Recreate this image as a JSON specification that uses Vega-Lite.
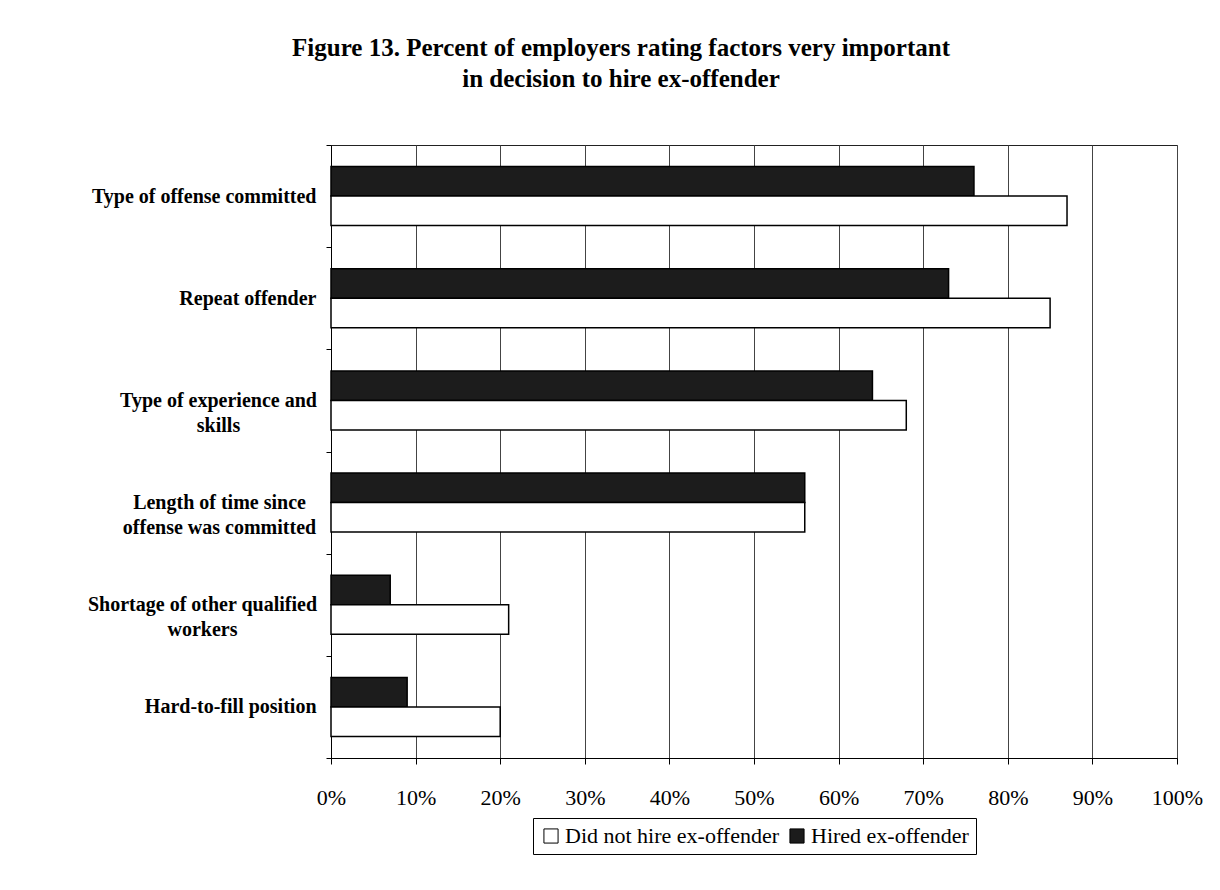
{
  "$schema": "https://vega.github.io/schema/vega-lite/v6.json",
  "autosize": {"type": "none"},
  "padding": {"left": 331, "top": 145, "right": 43, "bottom": 132},
  "width": 846,
  "height": 613,
  "background": "white",
  "title": {
    "text": ["Figure 13. Percent of employers rating factors very important", "in decision to hire ex-offender"],
    "font": "Liberation Serif",
    "fontSize": 25,
    "fontWeight": "bold",
    "color": "black",
    "anchor": "middle",
    "frame": "group",
    "dx": -133,
    "offset": 43,
    "lineHeight": 31
  },
  "data": {
    "values": [
      {"factor": "Type of offense committed", "group": "Hired ex-offender", "pct": 76},
      {"factor": "Type of offense committed", "group": "Did not hire ex-offender", "pct": 87},
      {"factor": "Repeat offender", "group": "Hired ex-offender", "pct": 73},
      {"factor": "Repeat offender", "group": "Did not hire ex-offender", "pct": 85},
      {"factor": "Type of experience and skills", "group": "Hired ex-offender", "pct": 64},
      {"factor": "Type of experience and skills", "group": "Did not hire ex-offender", "pct": 68},
      {"factor": "Length of time since offense was committed", "group": "Hired ex-offender", "pct": 56},
      {"factor": "Length of time since offense was committed", "group": "Did not hire ex-offender", "pct": 56},
      {"factor": "Shortage of other qualified workers", "group": "Hired ex-offender", "pct": 7},
      {"factor": "Shortage of other qualified workers", "group": "Did not hire ex-offender", "pct": 21},
      {"factor": "Hard-to-fill position", "group": "Hired ex-offender", "pct": 9},
      {"factor": "Hard-to-fill position", "group": "Did not hire ex-offender", "pct": 20}
    ]
  },
  "mark": {"type": "bar", "stroke": "black", "strokeWidth": 1.5},
  "encoding": {
    "y": {
      "field": "factor",
      "type": "nominal",
      "sort": null,
      "scale": {"paddingInner": 0, "paddingOuter": 0},
      "axis": {
        "title": null,
        "grid": false,
        "ticks": true,
        "tickBand": "extent",
        "tickSize": 5,
        "tickColor": "black",
        "domainColor": "black",
        "labelFont": "Liberation Serif",
        "labelFontWeight": "bold",
        "labelFontSize": 20,
        "labelColor": "black",
        "labelLimit": 0,
        "labelLineHeight": 25,
        "labelExpr": "datum.value === 'Type of experience and skills' ? ['Type of experience and', 'skills'] : datum.value === 'Length of time since offense was committed' ? ['Length of time since', 'offense was committed'] : datum.value === 'Shortage of other qualified workers' ? ['Shortage of other qualified', 'workers'] : datum.label",
        "labelAlign": {
          "condition": {"test": "indexof(['Type of experience and skills', 'Length of time since offense was committed', 'Shortage of other qualified workers'], datum.value) >= 0", "value": "center"},
          "value": "right"
        },
        "labelPadding": {
          "condition": [
            {"test": "datum.value === 'Type of experience and skills'", "value": 108},
            {"test": "datum.value === 'Length of time since offense was committed'", "value": 107},
            {"test": "datum.value === 'Shortage of other qualified workers'", "value": 124}
          ],
          "value": 10
        }
      }
    },
    "yOffset": {
      "field": "group",
      "type": "nominal",
      "sort": ["Hired ex-offender", "Did not hire ex-offender"],
      "scale": {"paddingInner": 0, "paddingOuter": 0.73}
    },
    "x": {
      "field": "pct",
      "type": "quantitative",
      "scale": {"domain": [0, 100]},
      "axis": {
        "title": null,
        "values": [0, 10, 20, 30, 40, 50, 60, 70, 80, 90, 100],
        "labelExpr": "datum.value + '%'",
        "grid": true,
        "gridColor": "#444",
        "gridWidth": 1,
        "domainColor": "black",
        "tickColor": "black",
        "tickSize": 6,
        "labelFont": "Liberation Serif",
        "labelFontSize": 22,
        "labelColor": "black",
        "labelPadding": 23,
        "labelFlush": false,
        "labelOverlap": false
      }
    },
    "color": {
      "field": "group",
      "type": "nominal",
      "scale": {"domain": ["Did not hire ex-offender", "Hired ex-offender"], "range": ["#ffffff", "#1c1c1c"]},
      "legend": {
        "title": null,
        "orient": "bottom",
        "direction": "horizontal",
        "strokeColor": "black",
        "padding": 7,
        "offset": 10,
        "labelFont": "Liberation Serif",
        "labelFontSize": 22,
        "labelColor": "black",
        "labelLimit": 0,
        "labelOffset": 3,
        "symbolType": "square",
        "symbolSize": 200,
        "symbolStrokeColor": "black",
        "symbolStrokeWidth": 1,
        "symbolOpacity": 1,
        "columnPadding": 6
      }
    }
  },
  "config": {
    "view": {"stroke": "#222", "strokeWidth": 1},
    "legend": {"layout": {"bottom": {"anchor": "middle"}}}
  }
}
